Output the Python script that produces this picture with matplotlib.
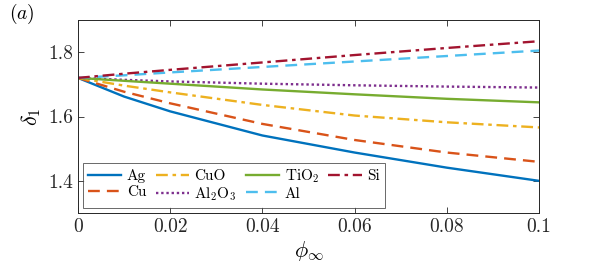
import matplotlib
matplotlib.use("Agg")
import matplotlib.pyplot as plt

plt.rcParams['font.family'] = 'serif'
plt.rcParams['font.serif'] = ['cmr10', 'DejaVu Serif']
plt.rcParams['mathtext.fontset'] = 'cm'
plt.rcParams['axes.formatter.use_mathtext'] = True

phi = [0.0, 0.01, 0.02, 0.04, 0.06, 0.08, 0.1]
names = ['Ag', 'Cu', 'CuO', r'Al$_2$O$_3$', r'TiO$_2$', 'Al', 'Si']
ag = [1.72, 1.662, 1.616, 1.541, 1.488, 1.441, 1.400]
cu = [1.72, 1.677, 1.641, 1.577, 1.527, 1.488, 1.459]
cuo = [1.72, 1.696, 1.675, 1.636, 1.603, 1.582, 1.566]
al2o3 = [1.72, 1.714, 1.709, 1.702, 1.697, 1.693, 1.690]
tio2 = [1.72, 1.711, 1.702, 1.684, 1.669, 1.655, 1.644]
al = [1.72, 1.728, 1.737, 1.754, 1.771, 1.788, 1.805]
si = [1.72, 1.733, 1.745, 1.768, 1.791, 1.813, 1.834]
series = [ag, cu, cuo, al2o3, tio2, al, si]
colors = ['#0072BD', '#D95319', '#EDB120', '#7E2F8E', '#77AC30', '#4DBEEE', '#A2142F']
styles = ['-', (0, (5, 3)), (0, (5, 2, 1.5, 2)), (0, (1, 1.2)), '-', (0, (5, 3)), (0, (5, 2, 1.5, 2))]

fig = plt.figure(figsize=(5.95, 2.7), dpi=100)
ax = fig.add_axes([0.131, 0.211, 0.775, 0.715])
for y, n, c, s in zip(series, names, colors, styles):
    ax.plot(phi, y, color=c, linestyle=s, linewidth=1.7, label=n)

ax.set_xlim(0, 0.1)
ax.set_ylim(1.3, 1.9)
ax.set_xticks([0, 0.02, 0.04, 0.06, 0.08, 0.1])
ax.set_xticklabels(['0', '0.02', '0.04', '0.06', '0.08', '0.1'])
ax.set_yticks([1.4, 1.6, 1.8])
ax.set_yticklabels(['1.4', '1.6', '1.8'])
ax.tick_params(direction='in', top=True, right=True, labelsize=14, length=4, width=0.6, colors='#262626')
for sp in ax.spines.values():
    sp.set_color('#262626')
    sp.set_linewidth(0.7)
ax.set_xlabel(r'$\phi_\infty$', fontsize=16, labelpad=2)
ax.set_ylabel(r'$\delta_1$', fontsize=16, labelpad=4)
fig.text(0.015, 0.93, r'$(a)$', fontsize=14)

leg = ax.legend(loc='lower left', ncol=4, fontsize=11, frameon=True, fancybox=False,
                edgecolor='#262626', handlelength=2.2, handletextpad=0.35, columnspacing=0.6,
                labelspacing=0.15, borderpad=0.3, borderaxespad=0.35)
leg.get_frame().set_linewidth(0.6)

fig.savefig('out.png', dpi=100)
